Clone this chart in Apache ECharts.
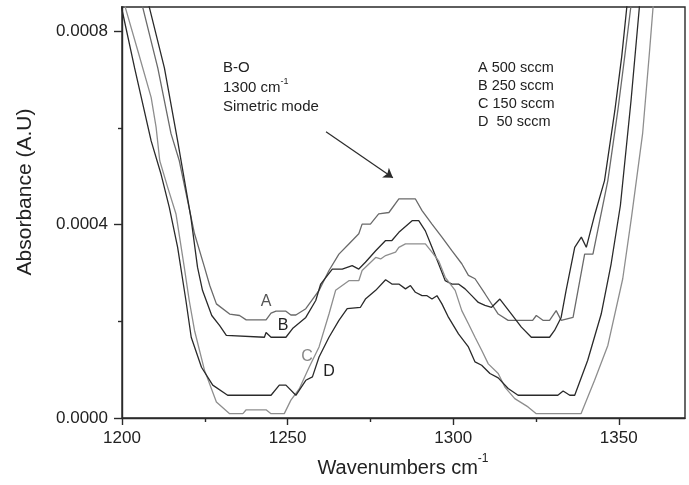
<!DOCTYPE html>
<html>
<head>
<meta charset="utf-8">
<script src="https://cdn.jsdelivr.net/npm/echarts@6/dist/echarts.min.js"></script>
<style>
html,body{margin:0;padding:0;background:#fff;}
#chart{width:689px;height:485px;}
</style>
</head>
<body>
<div id="chart"></div>
<script>
// ---- data (wavenumber cm-1, absorbance) ----
var seriesNames = ['A', 'B', 'C', 'D'];
var curveA = [
[1204.4,0.0009],[1206.3,0.000848],[1210.8,0.000724],[1214.8,0.000588],[1217.3,0.000532],[1221.9,0.000381],
[1224.9,0.000312],[1226.5,0.000274],[1228.5,0.000236],[1232.5,0.000215],[1235.5,0.000212],[1237.5,0.000203],
[1243.5,0.000203],[1245.0,0.000217],[1246.5,0.000221],[1249.5,0.000221],[1251.0,0.000213],[1252.5,0.000213],
[1255.5,0.000226],[1259.5,0.000264],[1262.5,0.000305],[1265.5,0.000339],[1268.5,0.000360],[1271.5,0.000381],
[1272.5,0.000401],[1275.0,0.000401],[1277.5,0.000422],[1280.6,0.000425],[1283.6,0.000453],[1288.6,0.000453],
[1290.6,0.000429],[1293.6,0.000401],[1296.6,0.000374],[1299.6,0.000346],[1302.6,0.000319],[1304.6,0.000295],
[1306.6,0.000288],[1309.6,0.000257],[1313.6,0.000215],[1316.6,0.000202],[1324.0,0.000202],[1325.1,0.000212],
[1327.1,0.000202],[1329.1,0.000202],[1331.1,0.000222],[1332.6,0.000202],[1336.2,0.000208],[1339.7,0.000339],
[1342.2,0.000339],[1346.7,0.000491],[1349.7,0.000635],[1351.8,0.000748],[1353.6,0.000848],[1354.5,0.0009]
];
var curveB = [
[1206.6,0.0009],[1208.3,0.000848],[1212.8,0.000724],[1216.8,0.000573],[1220.8,0.000415],[1222.8,0.000312],
[1224.3,0.000264],[1227.1,0.000212],[1229.5,0.000191],[1231.5,0.000171],[1232.0,0.000167],[1243.0,0.000167],
[1243.5,0.000177],[1245.0,0.000167],[1249.5,0.000167],[1251.5,0.000185],[1255.5,0.000208],[1258.5,0.000243],
[1260.0,0.000277],[1263.5,0.000308],[1266.5,0.000308],[1269.5,0.000315],[1271.5,0.000308],[1273.5,0.000322],
[1276.6,0.000346],[1279.6,0.000367],[1281.5,0.000367],[1283.6,0.000384],[1287.6,0.000408],[1289.6,0.000408],
[1291.6,0.000387],[1293.6,0.000353],[1295.6,0.000319],[1297.6,0.000284],[1299.6,0.000277],[1301.6,0.000277],
[1303.6,0.000267],[1305.6,0.000253],[1307.6,0.000239],[1309.6,0.000233],[1311.6,0.000229],[1314.1,0.000246],
[1317.6,0.000215],[1320.6,0.000188],[1323.6,0.000167],[1329.1,0.000167],[1330.6,0.000181],[1332.6,0.000208],
[1334.1,0.000264],[1336.7,0.000353],[1338.7,0.000374],[1340.2,0.000353],[1342.8,0.000422],[1345.7,0.000491],
[1348.8,0.000635],[1350.9,0.000748],[1352.4,0.000848],[1353.0,0.0009]
];
var curveC = [
[1198.9,0.0009],[1201.3,0.000842],[1204.8,0.000759],[1208.8,0.000663],[1210.3,0.000601],[1211.4,0.000532],
[1213.8,0.000477],[1216.3,0.000422],[1218.8,0.000312],[1220.3,0.000243],[1221.9,0.000181],[1224.9,0.000099],
[1228.5,0.000033],[1232.5,0.000009],[1236.5,0.000009],[1237.5,0.000017],[1243.5,0.000017],[1245.0,0.000009],
[1249.0,0.000009],[1251.0,0.000037],[1253.5,0.000060],[1256.5,0.000105],[1259.5,0.000147],[1262.5,0.000215],
[1264.5,0.000264],[1268.5,0.000284],[1271.5,0.000284],[1272.5,0.000305],[1276.6,0.000332],[1278.1,0.000329],
[1279.6,0.000336],[1282.6,0.000343],[1283.6,0.000353],[1285.6,0.000360],[1291.6,0.000360],[1293.6,0.000343],
[1295.6,0.000325],[1297.6,0.000291],[1300.6,0.000264],[1302.6,0.000222],[1304.6,0.000195],[1306.6,0.000167],
[1308.6,0.000140],[1310.6,0.000112],[1313.6,0.000092],[1315.6,0.000064],[1318.6,0.000040],[1322.6,0.000023],
[1325.1,0.000009],[1338.6,0.000009],[1342.7,0.000078],[1346.7,0.000150],[1351.2,0.000288],[1353.9,0.000418],
[1357.2,0.000588],[1359.3,0.000759],[1360.5,0.000862],[1361.0,0.0009]
];
var curveD = [
[1198.2,0.0009],[1200.3,0.000835],[1203.8,0.000724],[1208.8,0.000573],[1211.8,0.000504],[1214.3,0.000435],
[1216.8,0.000353],[1219.3,0.000243],[1220.9,0.000167],[1224.0,0.000105],[1227.4,0.000068],[1231.9,0.000047],
[1245.0,0.000047],[1247.5,0.000068],[1249.5,0.000068],[1252.5,0.000047],[1253.5,0.000057],[1255.5,0.000078],
[1257.5,0.000085],[1259.5,0.000126],[1262.5,0.000167],[1265.5,0.000202],[1268.0,0.000226],[1272.0,0.000229],
[1273.5,0.000246],[1276.6,0.000264],[1279.6,0.000286],[1281.5,0.000277],[1283.6,0.000277],[1285.6,0.000267],
[1287.1,0.000274],[1288.6,0.000260],[1290.6,0.000253],[1292.1,0.000253],[1293.6,0.000246],[1295.1,0.000253],
[1296.6,0.000236],[1298.6,0.000208],[1301.6,0.000174],[1304.6,0.000147],[1306.6,0.000116],[1308.6,0.000109],
[1311.1,0.000092],[1313.6,0.000083],[1316.6,0.000061],[1319.6,0.000047],[1331.6,0.000047],[1333.2,0.000056],
[1335.2,0.000047],[1336.7,0.000047],[1340.6,0.000119],[1344.7,0.000215],[1347.7,0.000319],[1350.5,0.000440],
[1353.7,0.000656],[1356.2,0.000848],[1356.5,0.0009]
];
var xMajorTicks = [1200, 1250, 1300, 1350];
var xMinorTicks = [1225, 1275, 1325];
var yMajorTicks = [0, 0.0004, 0.0008];
var yMinorTicks = [0.0002, 0.0006];
var xRange = [1200, 1370];
var yRange = [0, 0.00085];
var arrowStart = [1261.6, 0.000592];
var arrowEnd = [1281.8, 0.000497];
var legendLines = ['A 500 sccm', 'B 250 sccm', 'C 150 sccm', 'D  50 sccm'];
var noteLines = ['B-O', '1300 cm{sup|-1}', 'Simetric mode'];

// ---- chart ----
var FONT = '"Liberation Sans", Arial, Helvetica, sans-serif';
var chart = echarts.init(document.getElementById('chart'), null, {renderer: 'canvas'});
var curves = [curveA, curveB, curveC, curveD];
var colors = ['#6a6a6a', '#2a2a2a', '#8e8e8e', '#2a2a2a'];
var grid = {left: 122, right: 4, top: 7, bottom: 67};

function xAxisDef(ticks, len, showLabel, showLine) {
  return {
    type: 'value', min: xRange[0], max: xRange[1], position: 'bottom',
    axisLine: {show: showLine, lineStyle: {color: '#2a2a2a', width: 1.4}},
    axisTick: {show: true, customValues: ticks, length: len, lineStyle: {color: '#2a2a2a', width: 1.4}},
    axisLabel: {show: showLabel, customValues: ticks, margin: 12, fontSize: 17, color: '#222', fontFamily: FONT,
      formatter: function (v) { return String(v); }},
    splitLine: {show: false}
  };
}
function yAxisDef(ticks, len, showLabel, showLine) {
  return {
    type: 'value', min: yRange[0], max: yRange[1], position: 'left',
    axisLine: {show: showLine, lineStyle: {color: '#2a2a2a', width: 1.4}},
    axisTick: {show: true, customValues: ticks, length: len, lineStyle: {color: '#2a2a2a', width: 1.4}},
    axisLabel: {show: showLabel, customValues: ticks, margin: 14, fontSize: 17, color: '#222', fontFamily: FONT,
      formatter: function (v) { return v.toFixed(4); }},
    splitLine: {show: false}
  };
}

var series = curves.map(function (d, i) {
  return {
    name: seriesNames[i], type: 'line', data: d, symbol: 'none', smooth: false,
    xAxisIndex: 0, yAxisIndex: 0, clip: true,
    lineStyle: {color: colors[i], width: 1.3}, silent: true, animation: false
  };
});
series[1].markLine = {
  silent: true, animation: false, symbol: ['none', 'arrow'], symbolSize: 9,
  label: {show: false},
  lineStyle: {color: '#2a2a2a', width: 1.2, type: 'solid'},
  data: [[{coord: arrowStart}, {coord: arrowEnd}]]
};

var graphics = [];
graphics.push({type: 'text', x: 25, y: 192, rotation: Math.PI / 2,
  style: {text: 'Absorbance (A.U)', fontSize: 21, fontFamily: FONT, fill: '#222', align: 'center', verticalAlign: 'middle'}});
graphics.push({type: 'text', x: 403, y: 468,
  style: {text: 'Wavenumbers cm{sup|-1}', fontSize: 20, fontFamily: FONT, fill: '#222', align: 'center', verticalAlign: 'middle',
    rich: {sup: {fontSize: 12, fontFamily: FONT, fill: '#222', verticalAlign: 'top', lineHeight: 30}}}});
var noteY = [68, 88, 107];
noteLines.forEach(function (t, i) {
  graphics.push({type: 'text', x: 223, y: noteY[i],
    style: {text: t, fontSize: 15, fontFamily: FONT, fill: '#222', align: 'left', verticalAlign: 'middle',
      rich: {sup: {fontSize: 9, fontFamily: FONT, fill: '#222', verticalAlign: 'top', lineHeight: 22}}}});
});
var legY = [67.5, 86, 104, 121.5];
legendLines.forEach(function (t, i) {
  graphics.push({type: 'text', x: 478, y: legY[i],
    style: {text: t, fontSize: 14.5, fontFamily: FONT, fill: '#222', align: 'left', verticalAlign: 'middle', whiteSpace: 'pre'}});
});
var letterPos = [[266, 302], [283, 326], [307, 357], [329, 372]];
var letterColors = ['#555', '#222', '#888', '#222'];
seriesNames.forEach(function (n, i) {
  graphics.push({type: 'text', x: letterPos[i][0], y: letterPos[i][1],
    style: {text: n, fontSize: 16, fontFamily: FONT, fill: letterColors[i], align: 'center', verticalAlign: 'middle'}});
});

chart.setOption({
  animation: false,
  backgroundColor: '#fff',
  grid: [Object.assign({show: true, borderColor: '#2a2a2a', borderWidth: 1.4, backgroundColor: 'transparent'}, grid)],
  xAxis: [xAxisDef(xMajorTicks, 7, true, true), xAxisDef(xMinorTicks, 4, false, false)],
  yAxis: [yAxisDef(yMajorTicks, 8, true, true), yAxisDef(yMinorTicks, 4, false, false)],
  series: series,
  graphic: graphics
});
</script>
</body>
</html>
